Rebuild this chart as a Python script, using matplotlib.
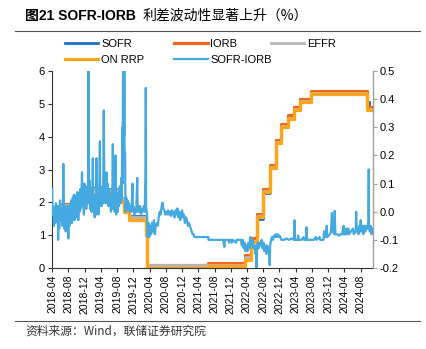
import matplotlib
matplotlib.use("Agg")
import matplotlib.pyplot as plt
import matplotlib.dates as mdates
from matplotlib.lines import Line2D
import pandas as pd

plt.rcParams['font.family'] = ['Liberation Sans', 'Noto Sans CJK SC', 'DejaVu Sans']
plt.rcParams['axes.unicode_minus'] = False

# policy-rate steps (change date -> level, %)
step_dates = ["2018-04-01", "2018-06-14", "2018-09-27", "2018-12-20", "2019-05-02",
              "2019-08-01", "2019-09-19", "2019-10-31", "2020-03-04", "2020-03-16",
              "2021-06-17", "2022-03-17", "2022-05-05", "2022-06-16", "2022-07-28",
              "2022-09-22", "2022-11-03", "2022-12-15", "2023-02-02", "2023-03-23",
              "2023-05-04", "2023-07-27", "2024-09-19", "2024-10-25"]
iorb = [1.75, 1.95, 2.20, 2.40, 2.35, 2.10, 1.80, 1.55, 1.10, 0.10,
        0.15, 0.40, 0.90, 1.65, 2.40, 3.15, 3.90, 4.40, 4.65, 4.90,
        5.15, 5.40, 4.90, 4.90]
on_rrp = [1.50, 1.75, 2.00, 2.25, 2.25, 2.00, 1.70, 1.45, 1.00, 0.00,
          0.05, 0.25, 0.80, 1.55, 2.30, 3.05, 3.80, 4.30, 4.55, 4.80,
          5.05, 5.30, 4.80, 4.80]
effr = [1.69, 1.91, 2.18, 2.40, 2.38, 2.13, 1.90, 1.55, 1.10, 0.08,
        0.08, 0.33, 0.83, 1.58, 2.33, 3.08, 3.83, 4.33, 4.58, 4.83,
        5.08, 5.33, 4.83, 4.83]
sofr_dates = step_dates[:-1] + ["2024-09-30", "2024-10-01", "2024-10-25"]
sofr = [1.75, 1.92, 2.20, 2.45, 2.42, 2.12, 1.85, 1.57, 1.10, 0.05,
        0.05, 0.29, 0.79, 1.50, 2.28, 3.04, 3.80, 4.30, 4.55, 4.81,
        5.05, 5.31, 4.84, 5.05, 4.83, 4.83]

# SOFR-IORB spread (right axis, %)
spread_pts = [
    ("2018-04-02", 0.08), ("2018-04-05", -0.01), ("2018-04-10", 0.02), ("2018-04-16", -0.05),
    ("2018-04-20", 0.01), ("2018-04-26", -0.04), ("2018-05-01", 0.03), ("2018-05-08", -0.03),
    ("2018-05-14", 0.02), ("2018-05-17", -0.10), ("2018-05-21", 0.02), ("2018-05-25", -0.06),
    ("2018-05-31", 0.04), ("2018-06-05", -0.03), ("2018-06-11", 0.01), ("2018-06-18", -0.05),
    ("2018-06-22", 0.00), ("2018-06-25", 0.17), ("2018-06-28", 0.01), ("2018-07-03", -0.06),
    ("2018-07-09", 0.02), ("2018-07-13", -0.07), ("2018-07-18", 0.01), ("2018-07-24", -0.04),
    ("2018-07-27", 0.02), ("2018-08-01", -0.095), ("2018-08-06", 0.00), ("2018-08-10", -0.05),
    ("2018-08-15", 0.03), ("2018-08-20", -0.03), ("2018-08-24", 0.04), ("2018-08-29", -0.04),
    ("2018-09-04", 0.05), ("2018-09-07", -0.02), ("2018-09-12", 0.06), ("2018-09-17", -0.03),
    ("2018-09-21", 0.04), ("2018-09-27", -0.01), ("2018-10-02", 0.06), ("2018-10-05", -0.02),
    ("2018-10-10", 0.07), ("2018-10-15", -0.03), ("2018-10-19", 0.05), ("2018-10-24", 0.00),
    ("2018-10-29", 0.08), ("2018-11-02", 0.01), ("2018-11-07", 0.05), ("2018-11-12", 0.14),
    ("2018-11-15", 0.02), ("2018-11-20", 0.09), ("2018-11-26", -0.01), ("2018-11-30", 0.10),
    ("2018-12-04", 0.02), ("2018-12-10", 0.07), ("2018-12-14", 0.01), ("2018-12-19", 0.09),
    ("2018-12-24", 0.03), ("2018-12-28", 0.10), ("2018-12-31", 0.75), ("2019-01-03", 0.03),
    ("2019-01-08", 0.11), ("2019-01-11", 0.01), ("2019-01-16", 0.07), ("2019-01-22", 0.00),
    ("2019-01-28", 0.05), ("2019-02-01", 0.19), ("2019-02-05", 0.00), ("2019-02-11", 0.06),
    ("2019-02-15", -0.02), ("2019-02-21", 0.04), ("2019-02-26", -0.01), ("2019-03-01", 0.19),
    ("2019-03-05", 0.00), ("2019-03-11", 0.05), ("2019-03-15", -0.01), ("2019-03-20", 0.03),
    ("2019-03-26", 0.25), ("2019-03-29", 0.02), ("2019-04-03", 0.08), ("2019-04-09", 0.02),
    ("2019-04-15", 0.09), ("2019-04-19", 0.03), ("2019-04-24", 0.36), ("2019-04-29", 0.04),
    ("2019-05-03", 0.11), ("2019-05-08", 0.03), ("2019-05-14", 0.14), ("2019-05-17", 0.04),
    ("2019-05-22", 0.10), ("2019-05-28", 0.02), ("2019-06-03", 0.08), ("2019-06-07", 0.02),
    ("2019-06-12", 0.06), ("2019-06-17", 0.00), ("2019-06-21", 0.05), ("2019-06-26", 0.01),
    ("2019-07-01", 0.24), ("2019-07-05", 0.01), ("2019-07-10", 0.06), ("2019-07-15", 0.00),
    ("2019-07-22", 0.20), ("2019-07-26", -0.01), ("2019-08-01", 0.05), ("2019-08-06", 0.00),
    ("2019-08-12", 0.07), ("2019-08-16", 0.02), ("2019-08-22", 0.09), ("2019-08-27", 0.03),
    ("2019-09-03", 0.12), ("2019-09-06", 0.04), ("2019-09-10", 0.30), ("2019-09-12", 0.10),
    ("2019-09-16", 0.60), ("2019-09-17", 1.00), ("2019-09-18", 0.70), ("2019-09-19", 0.45),
    ("2019-09-20", 0.80), ("2019-09-23", 0.27), ("2019-09-25", 0.55), ("2019-09-27", 0.20),
    ("2019-10-01", 0.21), ("2019-10-04", 0.00), ("2019-10-09", 0.05), ("2019-10-15", 0.01),
    ("2019-10-21", 0.04), ("2019-10-25", 0.02), ("2019-10-30", 0.03), ("2019-11-04", 0.00),
    ("2019-11-11", 0.02), ("2019-11-18", 0.00), ("2019-11-25", 0.10), ("2019-11-28", 0.01),
    ("2019-12-02", 0.02), ("2019-12-09", -0.01), ("2019-12-16", 0.01), ("2019-12-23", 0.00),
    ("2019-12-31", 0.12), ("2020-01-03", 0.00), ("2020-01-08", 0.02), ("2020-01-14", 0.00),
    ("2020-01-21", 0.02), ("2020-01-28", -0.01), ("2020-02-04", 0.01), ("2020-02-11", 0.00),
    ("2020-02-18", 0.02), ("2020-02-25", 0.00), ("2020-03-02", 0.13), ("2020-03-04", 0.44),
    ("2020-03-06", 0.02), ("2020-03-13", -0.01), ("2020-03-18", -0.09), ("2020-03-24", -0.04),
    ("2020-03-30", -0.09), ("2020-04-06", -0.05), ("2020-04-13", -0.08), ("2020-04-20", -0.04),
    ("2020-04-27", -0.07), ("2020-05-04", -0.03), ("2020-05-11", -0.08), ("2020-05-18", -0.05),
    ("2020-05-26", -0.04), ("2020-06-02", -0.05), ("2020-06-09", -0.02), ("2020-06-16", 0.00),
    ("2020-06-23", -0.01), ("2020-07-01", 0.02), ("2020-07-07", 0.032), ("2020-07-14", 0.01),
    ("2020-07-21", 0.005), ("2020-07-28", -0.01), ("2020-08-04", 0.00), ("2020-08-11", -0.01),
    ("2020-08-18", 0.005), ("2020-08-25", -0.01), ("2020-09-01", 0.00), ("2020-09-08", -0.015),
    ("2020-09-15", 0.005), ("2020-09-22", -0.01), ("2020-09-29", 0.00), ("2020-10-06", -0.02),
    ("2020-10-13", 0.005), ("2020-10-20", -0.01), ("2020-10-27", 0.012), ("2020-11-03", -0.02),
    ("2020-11-10", 0.00), ("2020-11-17", -0.03), ("2020-11-24", -0.01), ("2020-12-01", 0.005),
    ("2020-12-08", -0.02), ("2020-12-15", -0.01), ("2020-12-22", -0.04), ("2020-12-31", -0.02),
    ("2021-01-07", -0.03), ("2021-01-14", -0.05), ("2021-01-21", -0.04), ("2021-01-28", -0.05),
    ("2021-02-04", -0.06), ("2021-02-11", -0.07), ("2021-02-18", -0.08), ("2021-02-25", -0.08),
    ("2021-03-04", -0.09), ("2021-06-16", -0.09), ("2021-06-17", -0.10), ("2021-10-05", -0.10),
    ("2021-10-14", -0.125), ("2021-10-18", -0.10), ("2021-11-15", -0.10), ("2021-11-19", -0.11),
    ("2021-11-23", -0.10), ("2021-12-06", -0.10), ("2021-12-10", -0.11), ("2021-12-14", -0.10),
    ("2022-01-10", -0.11), ("2022-01-14", -0.10), ("2022-02-15", -0.10), ("2022-02-22", -0.12),
    ("2022-02-28", -0.10), ("2022-03-08", -0.13), ("2022-03-14", -0.11), ("2022-03-21", -0.14),
    ("2022-03-28", -0.12), ("2022-04-05", -0.14), ("2022-04-12", -0.11), ("2022-04-20", -0.13),
    ("2022-04-28", -0.09), ("2022-05-06", -0.12), ("2022-05-13", -0.10), ("2022-05-20", -0.13),
    ("2022-05-27", -0.12), ("2022-06-03", -0.15), ("2022-06-08", -0.12), ("2022-06-13", -0.21),
    ("2022-06-16", -0.13), ("2022-06-22", -0.11), ("2022-06-29", -0.13), ("2022-07-06", -0.11),
    ("2022-07-13", -0.12), ("2022-07-20", -0.10), ("2022-07-27", -0.13), ("2022-08-03", -0.11),
    ("2022-08-10", -0.14), ("2022-08-17", -0.12), ("2022-08-24", -0.15), ("2022-08-31", -0.12),
    ("2022-09-07", -0.14), ("2022-09-14", -0.13), ("2022-09-19", -0.19), ("2022-09-22", -0.12),
    ("2022-09-29", -0.10), ("2022-10-06", -0.09), ("2022-10-13", -0.10), ("2022-10-20", -0.085),
    ("2022-10-27", -0.09), ("2022-11-03", -0.08), ("2022-11-10", -0.09), ("2022-11-17", -0.08),
    ("2022-11-24", -0.09), ("2022-12-01", -0.085), ("2022-12-08", -0.09), ("2022-12-15", -0.10),
    ("2023-01-05", -0.10), ("2023-01-20", -0.095), ("2023-02-10", -0.10), ("2023-03-01", -0.095),
    ("2023-03-20", -0.10), ("2023-03-24", -0.03), ("2023-03-28", -0.10), ("2023-04-17", -0.10),
    ("2023-04-20", -0.085), ("2023-04-24", -0.10), ("2023-05-15", -0.10), ("2023-05-31", -0.09),
    ("2023-06-05", -0.10), ("2023-06-20", -0.10), ("2023-06-22", -0.055), ("2023-06-26", -0.10),
    ("2023-07-31", -0.10), ("2023-08-15", -0.10), ("2023-08-31", -0.09), ("2023-09-05", -0.10),
    ("2023-09-28", -0.09), ("2023-10-02", -0.10), ("2023-10-27", -0.10), ("2023-10-31", -0.07),
    ("2023-11-03", -0.09), ("2023-11-15", -0.09), ("2023-11-20", -0.05), ("2023-11-24", -0.09),
    ("2023-12-15", -0.08), ("2023-12-22", -0.07), ("2023-12-29", -0.005), ("2024-01-03", -0.07),
    ("2024-01-16", -0.08), ("2024-01-19", 0.003), ("2024-01-24", -0.08), ("2024-02-05", -0.08),
    ("2024-02-20", -0.085), ("2024-03-01", -0.08), ("2024-03-15", -0.08), ("2024-03-25", -0.05),
    ("2024-03-28", -0.08), ("2024-04-10", -0.08), ("2024-04-15", -0.06), ("2024-04-18", -0.08),
    ("2024-05-01", -0.06), ("2024-05-06", -0.08), ("2024-05-20", -0.07), ("2024-06-03", -0.06),
    ("2024-06-10", -0.08), ("2024-06-24", -0.07), ("2024-06-28", 0.00), ("2024-07-02", -0.07),
    ("2024-07-10", -0.06), ("2024-07-15", -0.08), ("2024-07-22", -0.05), ("2024-07-29", -0.07),
    ("2024-08-01", -0.03), ("2024-08-05", -0.07), ("2024-08-15", -0.05), ("2024-08-20", -0.08),
    ("2024-08-30", -0.05), ("2024-09-05", -0.07), ("2024-09-16", -0.05), ("2024-09-20", -0.06),
    ("2024-09-27", -0.04), ("2024-09-30", 0.15), ("2024-10-02", -0.05), ("2024-10-08", -0.07),
    ("2024-10-15", -0.05), ("2024-10-21", -0.08), ("2024-10-25", -0.06),
]

colors = {"SOFR": "#1f6fc6", "IORB": "#f4661b", "EFFR": "#b8b8b8",
          "ON RRP": "#ffa616", "SOFR-IORB": "#45a9e1"}

sd = pd.to_datetime(step_dates)
spread_d = pd.to_datetime([p[0] for p in spread_pts])
spread_v = [p[1] for p in spread_pts]

fig = plt.figure(figsize=(4.26, 3.49), dpi=100)
ax = fig.add_axes([52 / 426, 1 - 268 / 349, (373 - 52) / 426, (268 - 71) / 349])
ax2 = ax.twinx()

l_sofr, = ax.step(pd.to_datetime(sofr_dates), sofr, where="post", color=colors["SOFR"], lw=2.0)
l_iorb, = ax.step(sd, iorb, where="post", color=colors["IORB"], lw=2.3)
l_effr, = ax.step(sd, effr, where="post", color=colors["EFFR"], lw=2.0)
l_rrp, = ax.step(sd, on_rrp, where="post", color=colors["ON RRP"], lw=2.3)
l_spr, = ax2.plot(spread_d, spread_v, color=colors["SOFR-IORB"], lw=1.6)

ax.set_xlim(pd.Timestamp("2018-04-01"), pd.Timestamp("2024-11-01"))
ax.set_ylim(0, 6)
ax.set_yticks(range(0, 7))
ax2.set_ylim(-0.2, 0.5)
ax2.set_yticks([-0.2, -0.1, 0.0, 0.1, 0.2, 0.3, 0.4, 0.5])
ax2.yaxis.set_major_formatter(matplotlib.ticker.FormatStrFormatter('%.1f'))

ax.xaxis.set_major_locator(mdates.MonthLocator(bymonth=[4, 8, 12]))
ax.xaxis.set_major_formatter(mdates.DateFormatter('%Y-%m'))
for lab in ax.get_xticklabels():
    lab.set_rotation(90)
ax.tick_params(axis='x', labelsize=7.5, length=3, color='#333333', pad=2)
ax.tick_params(axis='y', labelsize=8, length=3, color='#333333', pad=2)
ax2.tick_params(axis='y', labelsize=8, length=3, color='#a0a0a0', pad=2)

for a in (ax, ax2):
    a.spines['top'].set_visible(False)
ax.spines['left'].set_color('#333333')
ax.spines['bottom'].set_color('#333333')
ax2.spines['right'].set_color('#a0a0a0')
ax2.spines['left'].set_visible(False)
ax2.spines['bottom'].set_visible(False)

leg_kw = dict(loc='upper left', frameon=False, fontsize=8, handlelength=3.0,
              handletextpad=0.25, borderpad=0, borderaxespad=0, labelspacing=0.5)
fig.legend([l_sofr, l_rrp, l_iorb, l_spr], ["SOFR", "ON RRP", "IORB", "SOFR-IORB"],
           ncol=2, columnspacing=2.7, bbox_to_anchor=(65 / 426, 1 - 39 / 349), **leg_kw)
fig.legend([l_effr], ["EFFR"], bbox_to_anchor=(271 / 426, 1 - 39 / 349), **leg_kw)

fig.text(25 / 426, 1 - 16 / 349, "图21 SOFR-IORB", fontsize=10, fontweight='bold',
         va='center', ha='left')
fig.text(143 / 426, 1 - 16 / 349, "利差波动性显著上升（%）", fontsize=10,
         family=['Noto Sans CJK SC'], va='center', ha='left')
fig.add_artist(Line2D([15 / 426, 420 / 426], [1 - 31 / 349, 1 - 31 / 349],
                      color='#555555', lw=0.8))
fig.add_artist(Line2D([15 / 426, 420 / 426], [1 - 321 / 349, 1 - 321 / 349],
                      color='#555555', lw=0.8))
fig.text(25 / 426, 1 - 331 / 349, "资料来源：Wind，联储证券研究院", fontsize=8.5,
         family=['Noto Sans CJK SC', 'Liberation Sans'], va='center', ha='left', color='#333333')

fig.savefig("out.png", dpi=100)
